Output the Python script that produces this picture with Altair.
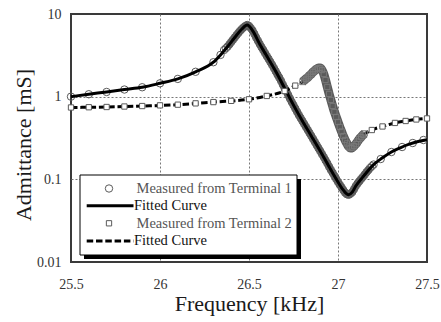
import altair as alt
import pandas as pd

# ---------------- data ----------------
# Terminal 1, measured (kHz, mS)
m1_f = [25.5, 25.6, 25.7, 25.8, 25.9, 26.0, 26.1, 26.2, 26.3, 26.34,
        26.36, 26.37, 26.38, 26.39, 26.40, 26.41, 26.42, 26.43, 26.44, 26.45,
        26.46, 26.47, 26.48, 26.49, 26.50, 26.51, 26.52, 26.53, 26.54, 26.55,
        26.56, 26.57, 26.58, 26.59, 26.60, 26.61, 26.62, 26.63, 26.64, 26.65,
        26.66, 26.67, 26.68, 26.69, 26.70, 26.71, 26.72, 26.73, 26.74, 26.75,
        26.76, 26.77, 26.78, 26.79, 26.80, 26.81, 26.82, 26.83, 26.84, 26.85,
        26.86, 26.87, 26.88, 26.89, 26.90, 26.91, 26.92, 26.93, 26.94, 26.95,
        26.96, 26.97, 26.98, 26.99, 27.00, 27.01, 27.02, 27.03, 27.04, 27.05,
        27.06, 27.07, 27.08, 27.09, 27.10, 27.11, 27.12, 27.13, 27.14, 27.15,
        27.16, 27.17, 27.18, 27.19, 27.20,
        27.24, 27.30, 27.36, 27.42, 27.48]
m1_v = [1.00, 1.07, 1.14, 1.22, 1.30, 1.45, 1.64, 2.00, 2.61, 3.20,
        3.67, 3.85, 4.04, 4.30, 4.58, 4.88, 5.20, 5.55, 5.89, 6.25,
        6.59, 6.90, 7.16, 7.36, 7.16, 6.75, 6.31, 5.75, 5.20, 4.75,
        4.34, 3.98, 3.67, 3.37, 3.10, 2.86, 2.63, 2.42, 2.22, 2.03,
        1.85, 1.70, 1.55, 1.40, 1.27, 1.16, 1.05, 0.95, 0.863, 0.79,
        0.719, 0.656, 0.600, 0.552, 0.508, 0.467, 0.430, 0.396, 0.364, 0.335,
        0.308, 0.283, 0.260, 0.239, 0.220, 0.202, 0.186, 0.170, 0.156, 0.142,
        0.130, 0.120, 0.110, 0.101, 0.093, 0.086, 0.080, 0.074, 0.069, 0.066,
        0.065, 0.067, 0.070, 0.076, 0.083, 0.089, 0.095, 0.101, 0.107, 0.114,
        0.122, 0.129, 0.137, 0.144, 0.151,
        0.176, 0.214, 0.246, 0.275, 0.299]

# Terminal 1, fitted curve
fit1_f = [25.5, 25.6, 25.7, 25.8, 25.9, 26.0, 26.1, 26.2, 26.3, 26.34,
          26.38, 26.42, 26.46, 26.49, 26.52, 26.56, 26.60, 26.65, 26.70, 26.75,
          26.80, 26.85, 26.90, 26.95, 27.00, 27.03, 27.06, 27.08, 27.10, 27.14,
          27.20, 27.25, 27.30, 27.35, 27.40, 27.45, 27.50]
fit1_v = [1.00, 1.07, 1.14, 1.22, 1.30, 1.45, 1.64, 2.00, 2.61, 3.20,
          4.04, 5.20, 6.59, 7.36, 6.31, 4.34, 3.10, 2.03, 1.27, 0.79,
          0.508, 0.335, 0.220, 0.142, 0.093, 0.074, 0.065, 0.070, 0.083, 0.107,
          0.151, 0.182, 0.214, 0.241, 0.266, 0.287, 0.302]

# Terminal 2, measured
m2_f = [25.5, 25.6, 25.7, 25.8, 25.9, 26.0, 26.1, 26.2, 26.3, 26.4,
        26.5, 26.6, 26.7, 26.76,
        26.80, 26.81, 26.82, 26.83, 26.84, 26.85, 26.86, 26.87, 26.88, 26.89,
        26.90, 26.91, 26.92, 26.93, 26.94, 26.95, 26.96, 26.97, 26.98, 26.99,
        27.00, 27.01, 27.02, 27.03, 27.04, 27.05, 27.06, 27.07, 27.08, 27.09,
        27.10, 27.11, 27.12, 27.13, 27.14, 27.15,
        27.19, 27.25, 27.32, 27.38, 27.44, 27.50]
m2_v = [0.74, 0.745, 0.75, 0.76, 0.77, 0.785, 0.80, 0.83, 0.86, 0.89,
        0.93, 1.02, 1.17, 1.36,
        1.505, 1.57, 1.64, 1.71, 1.80, 1.88, 1.99, 2.07, 2.16, 2.22,
        2.22, 2.10, 1.88, 1.59, 1.31, 1.08, 0.912, 0.771, 0.653, 0.568,
        0.494, 0.430, 0.379, 0.334, 0.299, 0.272, 0.249, 0.239, 0.242, 0.253,
        0.267, 0.287, 0.308, 0.325, 0.344, 0.359,
        0.395, 0.436, 0.481, 0.508, 0.530, 0.545]

# Terminal 2, fitted curve
fit2_f = [25.5, 25.7, 25.9, 26.1, 26.3, 26.5, 26.6, 26.7, 26.76,
          26.80, 26.84, 26.87, 26.895, 26.92, 26.94, 26.96, 26.98, 27.00, 27.02,
          27.04, 27.07, 27.10, 27.13,
          27.19, 27.25, 27.32, 27.38, 27.44, 27.50]
fit2_v = [0.74, 0.75, 0.77, 0.80, 0.86, 0.93, 1.02, 1.17, 1.36,
          1.505, 1.80, 2.07, 2.24, 1.88, 1.31, 0.912, 0.653, 0.494, 0.379,
          0.299, 0.239, 0.267, 0.325,
          0.395, 0.436, 0.481, 0.508, 0.530, 0.545]

x_ticks = [25.5, 26, 26.5, 27, 27.5]
y_ticks = [0.01, 0.1, 1, 10]
legend_labels = ["Measured from Terminal 1", "Fitted Curve",
                 "Measured from Terminal 2", "Fitted Curve"]

assert len(m1_f) == len(m1_v) and len(m2_f) == len(m2_v)
assert len(fit1_f) == len(fit1_v) and len(fit2_f) == len(fit2_v)

df_m1 = pd.DataFrame({"f": m1_f, "v": m1_v})
df_fit1 = pd.DataFrame({"f": fit1_f, "v": fit1_v})
df_m2 = pd.DataFrame({"f": m2_f, "v": m2_v})
df_fit2 = pd.DataFrame({"f": fit2_f, "v": fit2_v})
one = pd.DataFrame({"k": [0]})

SERIF = "Liberation Serif"

X = alt.X("f:Q",
          scale=alt.Scale(domain=[25.5, 27.5], nice=False, zero=False),
          axis=alt.Axis(values=x_ticks, title="Frequency [kHz]",
                        labelExpr="'' + datum.value",
                        labelPadding=26.5, labelBaseline="alphabetic",
                        labelFlush=False,
                        titleY=48, titleBaseline="alphabetic",
                        gridOpacity={"condition": {"test": "datum.value > 25.6 && datum.value < 27.4", "value": 1}, "value": 0}))
Y = alt.Y("v:Q",
          scale=alt.Scale(type="log", domain=[0.01, 10], nice=False),
          axis=alt.Axis(values=y_ticks, title="Admittance [mS]",
                        labelExpr="'' + datum.value",
                        labelPadding=10,
                        titleX=-40.8, titleY=130.5, titleBaseline="alphabetic",
                        gridOpacity={"condition": {"test": "datum.value > 0.05 && datum.value < 5", "value": 1}, "value": 0}))

dense1 = "datum.f >= 26.38 && datum.f <= 27.18"
dense2 = "datum.f >= 26.795 && datum.f <= 27.155"

band1 = alt.Chart(df_m1).transform_filter(dense1).mark_line(
    color="#666666", strokeWidth=7, interpolate="monotone").encode(x=X, y=Y)
circles1 = alt.Chart(df_m1).mark_point(
    shape="circle", filled=False, stroke="#5a5a5a", strokeWidth=1,
    size=55, opacity=1).encode(x=X, y=Y)
fit1 = alt.Chart(df_fit1).mark_line(
    color="black", strokeWidth=3, interpolate="monotone").encode(x=X, y=Y)
fit2 = alt.Chart(df_fit2).mark_line(
    color="black", strokeWidth=3, strokeDash=[6.5, 2.8],
    interpolate="monotone").encode(x=X, y=Y)
band2 = alt.Chart(df_m2).transform_filter(dense2).mark_line(
    color="#5a5a5a", strokeWidth=9, interpolate="monotone").encode(x=X, y=Y)
squares_sparse = alt.Chart(df_m2).transform_filter("!(" + dense2 + ")").mark_point(
    shape="square", filled=True, fill="white", stroke="#5a5a5a",
    strokeWidth=1, size=28, opacity=1).encode(x=X, y=Y)
squares_dense = alt.Chart(df_m2).transform_filter(dense2).mark_point(
    shape="square", filled=False, stroke="#7a7a7a",
    strokeWidth=1, size=28, opacity=1).encode(x=X, y=Y)

# ---------------- legend box ----------------
shadow = alt.Chart(one).mark_rect(color="black").encode(
    x=alt.value(13), x2=alt.value(230), y=alt.value(165), y2=alt.value(245))
box = alt.Chart(one).mark_rect(fill="white", stroke="black", strokeWidth=1).encode(
    x=alt.value(9), x2=alt.value(226), y=alt.value(161), y2=alt.value(241))
leg_c = alt.Chart(one).mark_point(
    shape="circle", filled=False, stroke="#5a5a5a", strokeWidth=1,
    size=55, opacity=1).encode(x=alt.value(38), y=alt.value(174.5))
leg_l1 = alt.Chart(one).mark_rule(color="black", strokeWidth=3).encode(
    x=alt.value(15.7), x2=alt.value(62.5), y=alt.value(191.7))
leg_s = alt.Chart(one).mark_point(
    shape="square", filled=True, fill="white", stroke="#5a5a5a",
    strokeWidth=1, size=28, opacity=1).encode(x=alt.value(38), y=alt.value(209.3))
leg_l2 = alt.Chart(one).mark_rule(color="black", strokeWidth=3,
                                  strokeDash=[6.5, 2.8]).encode(
    x=alt.value(15.7), x2=alt.value(62.5), y=alt.value(227))

def leg_text(i, x, y, color):
    return alt.Chart(one).mark_text(
        text=legend_labels[i], align="left", baseline="middle",
        font=SERIF, fontSize=14.5, color=color).encode(
        x=alt.value(x), y=alt.value(y))

t1 = leg_text(0, 65.5, 175, "#555555")
t2 = leg_text(1, 63, 192, "#111111")
t3 = leg_text(2, 65.5, 209.5, "#555555")
t4 = leg_text(3, 63, 227, "#111111")

chart = alt.layer(
    band1, circles1, fit1, fit2, band2, squares_sparse, squares_dense,
    shadow, box, leg_c, leg_l1, leg_s, leg_l2, t1, t2, t3, t4
).properties(
    width=356, height=248,
    autosize=alt.AutoSizeParams(type="none"),
    padding={"left": 71, "top": 14, "right": 14, "bottom": 60},
    background="white",
).configure_view(
    stroke="#3a3a3a", strokeWidth=2
).configure_axis(
    labelFont=SERIF, labelFontSize=14, labelColor="#333333",
    titleFont=SERIF, titleFontSize=22, titleFontWeight="normal", titleColor="#1a1a1a",
    ticks=False, domain=False, labelOverlap=False,
    grid=True, gridColor="#777777", gridDash=[2, 2], gridWidth=1,
)

chart.save("out.html", embed_options={"renderer": "svg", "actions": False})
